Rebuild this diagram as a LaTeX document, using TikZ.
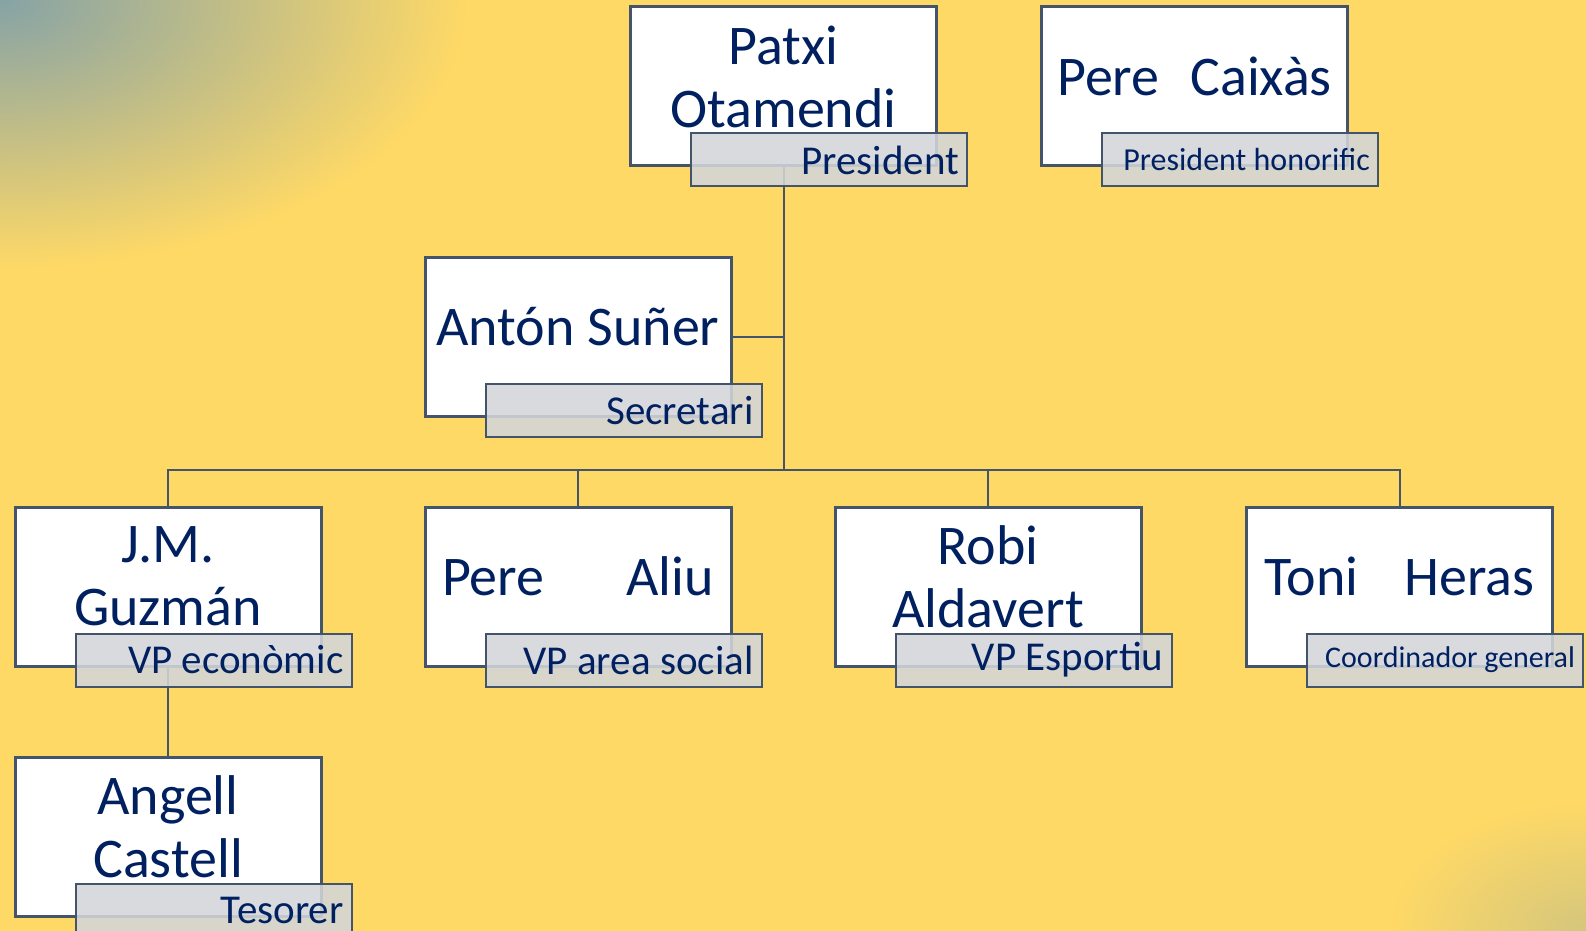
\documentclass[tikz,border=0pt]{standalone}
\usepackage{fontspec}
\setmainfont{Carlito}
\usetikzlibrary{calc}

\definecolor{bgyellow}{HTML}{FFD966}
\definecolor{cornergreen}{HTML}{86A3A6}
\definecolor{navy}{HTML}{002060}
\definecolor{slate}{HTML}{44546A}
\definecolor{rolegray}{HTML}{D3D6DA}

\tikzset{
  namebox/.style={draw=slate, line width=1.5pt, fill=white, minimum width=153pt, minimum height=79.5pt, inner sep=0pt},
  nametext/.style={text=navy, align=center, yshift=5pt, inner sep=0pt, font=\fontsize{28}{31.5}\selectfont},
  rolebox/.style={draw=slate, line width=1pt, fill=rolegray, fill opacity=0.88, text opacity=1, text=navy,
    minimum width=138pt, minimum height=26.5pt, inner xsep=4pt, inner ysep=0pt, text width=130pt, align=flush right},
  link/.style={draw=slate, line width=1pt},
}

% box of a member: name, position, text
\newcommand*{\member}[3]{%
\node[namebox] (#1) at (#2) {};
\node[nametext] (#1-name) at (#1.center) {#3};}

% grey tag with the post, hung on the box corner
\newcommand*{\post}[3]{%
\node[rolebox, anchor=north west, font=\fontsize{#3}{#3}\selectfont] (#1-post) at ($(#1.south west)+(61,-35)$) {#2};}

\begin{document}
\begin{tikzpicture}[x=0.5pt, y=-0.5pt]

\def\rowa{86.5}
\def\rowb{337}
\def\rowc{586.5}
\def\rowd{836.5}
\def\bigpt{20.5}
\def\smallpt{16}
\def\tinypt{15}

\useasboundingbox (0,0) rectangle (1586,931);
\clip (0,0) rectangle (1586,931);
\fill[bgyellow] (0,0) rectangle (1586,931);
\shade[inner color=cornergreen, outer color=bgyellow] (0,0) ellipse [x radius=470, y radius=270];
\shade[inner color=cornergreen!35!bgyellow, outer color=bgyellow] (1586,931) ellipse [x radius=200, y radius=130];

\member{patxi}{783.5,\rowa}{Patxi\\Otamendi}
\member{caixas}{1194.5,\rowa}{Pere\hspace{0.55em}Caixàs}
\member{anton}{578,\rowb}{Antón Suñer}
\member{jm}{168,\rowc}{J.M.\\Guzmán}
\member{aliu}{578,\rowc}{\makebox[136pt]{Pere\hfill Aliu}}
\member{robi}{988,\rowc}{Robi\\Aldavert}
\member{toni}{1399.5,\rowc}{\makebox[135pt]{Toni\hfill Heras}}
\member{angell}{168,\rowd}{Angell\\Castell}

\coordinate (bus) at (783.5,470);
\draw[link] (patxi.south) -- (bus);
\draw[link] (anton.east) -- (anton.east -| bus);
\draw[link] (jm.north) -- (jm.north |- bus) -- (toni.north |- bus) -- (toni.north);
\draw[link] (aliu.north) -- (aliu.north |- bus);
\draw[link] (robi.north) -- (robi.north |- bus);
\draw[link] (jm.south) -- (angell.north);

\post{patxi}{President}{\bigpt}
\post{caixas}{President honorific}{\smallpt}
\post{anton}{Secretari}{\bigpt}
\post{jm}{VP econòmic}{\bigpt}
\post{aliu}{VP area social}{\bigpt}
\post{robi}{VP Esportiu}{\bigpt}
\post{toni}{Coordinador general}{\tinypt}
\post{angell}{Tesorer}{\bigpt}

\end{tikzpicture}
\end{document}
